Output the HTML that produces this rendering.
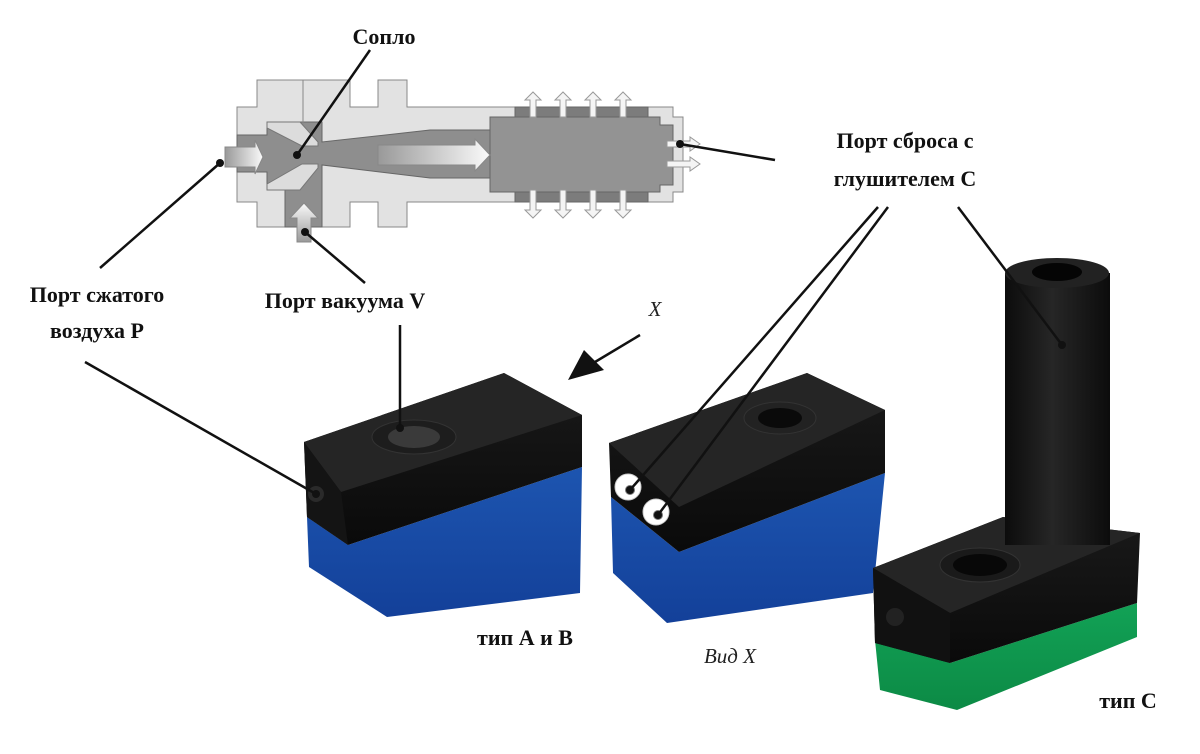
<!DOCTYPE html>
<html><head><meta charset="utf-8"><style>
html,body{margin:0;padding:0;background:#fff;width:1200px;height:754px;overflow:hidden}
svg{display:block}
.b{font-family:"Liberation Serif",serif;font-weight:bold;font-size:22px;fill:#111}
.i{font-family:"Liberation Serif",serif;font-style:italic;font-size:21px;fill:#222}
</style></head><body>
<svg width="1200" height="754" viewBox="0 0 1200 754" xmlns="http://www.w3.org/2000/svg">
<defs>
<linearGradient id="blk" x1="0" y1="0" x2="0" y2="1"><stop offset="0" stop-color="#1a1a1a"/><stop offset="1" stop-color="#0a0a0a"/></linearGradient>
<linearGradient id="blu" x1="0" y1="0" x2="0" y2="1"><stop offset="0" stop-color="#1d55b0"/><stop offset="1" stop-color="#134099"/></linearGradient>
<linearGradient id="grn" x1="0" y1="0" x2="0" y2="1"><stop offset="0" stop-color="#12a256"/><stop offset="1" stop-color="#0c8a45"/></linearGradient>
<linearGradient id="tube" x1="0" y1="0" x2="1" y2="0"><stop offset="0" stop-color="#0c0c0c"/><stop offset="0.45" stop-color="#262626"/><stop offset="1" stop-color="#0c0c0c"/></linearGradient>
<linearGradient id="arw" x1="0" y1="0" x2="1" y2="0"><stop offset="0" stop-color="#999"/><stop offset="1" stop-color="#fafafa"/></linearGradient>
<linearGradient id="arv" x1="0" y1="1" x2="0" y2="0"><stop offset="0" stop-color="#999"/><stop offset="1" stop-color="#fafafa"/></linearGradient>
</defs>
<!-- cross-section -->
<path d="M237,107 H257 V80 H350 V107 H378 V80 H407 V107 H673 V117 H683 V192 H673 V202 H407 V227 H378 V202 H350 V227 H257 V202 H237 Z" fill="#e2e2e2" stroke="#888" stroke-width="1"/>
<path d="M237,135 H267 V122 H322 V142 L430,130 H490 V178 H430 L322,165 V227 H285 V185 H267 V172 H237 Z" fill="#8e8e8e" stroke="#666"/>
<rect x="515" y="107" width="133" height="95" fill="#7c7c7c" stroke="#666"/>
<path d="M490,117 H660 V125 H673 V185 H660 V192 H490 Z" fill="#939393" stroke="#666"/>
<line x1="303" y1="80" x2="303" y2="135" stroke="#888"/>
<g fill="#dcdcdc" stroke="#777">
<polygon points="267,122 300,122 318,142 318,146 302,146 267,128"/>
<polygon points="267,190 300,190 318,168 318,164 302,164 267,184"/>
</g>
<polygon points="225,147 255,147 255,140 263,157 255,174 255,167 225,167" fill="url(#arw)" stroke="#888"/>
<polygon points="378,145 475,145 475,139 490,155 475,171 475,165 378,165" fill="url(#arw)" stroke="#888"/>
<polygon points="297,242 297,218 290,218 304,203 318,218 311,218 311,242" fill="url(#arv)" stroke="#888"/>
<g fill="#f4f4f4" stroke="#999">
<polygon points="530,117 530,100 525,100 533,92 541,100 536,100 536,117"/>
<polygon points="560,117 560,100 555,100 563,92 571,100 566,100 566,117"/>
<polygon points="590,117 590,100 585,100 593,92 601,100 596,100 596,117"/>
<polygon points="620,117 620,100 615,100 623,92 631,100 626,100 626,117"/>
<polygon points="530,190 530,210 525,210 533,218 541,210 536,210 536,190"/>
<polygon points="560,190 560,210 555,210 563,218 571,210 566,210 566,190"/>
<polygon points="590,190 590,210 585,210 593,218 601,210 596,210 596,190"/>
<polygon points="620,190 620,210 615,210 623,218 631,210 626,210 626,190"/>
<polygon points="667,141 690,141 690,137 700,144 690,151 690,147 667,147"/>
<polygon points="667,161 690,161 690,157 700,164 690,171 690,167 667,167"/>
</g>
<!-- block A/B -->
<polygon points="307,517 348,545 582,467 580,593 387,617 309,567" fill="url(#blu)"/>
<polygon points="304,442 504,373 582,415 582,467 348,545 307,517" fill="url(#blk)"/>
<polygon points="304,442 504,373 582,415 341,492" fill="#252525"/>
<polygon points="304,442 341,492 348,545 307,517" fill="#141414"/>
<ellipse cx="414" cy="437" rx="42" ry="17" fill="#1d1d1d" stroke="#333"/>
<ellipse cx="414" cy="437" rx="26" ry="11" fill="#3a3a3a"/>
<circle cx="316" cy="494" r="8" fill="#2a2a2a"/>
<!-- block view X -->
<polygon points="611,497 679,552 885,473 873,593 667,623 613,573" fill="url(#blu)"/>
<polygon points="609,443 807,373 885,410 885,473 679,552 611,497" fill="url(#blk)"/>
<polygon points="609,443 807,373 885,410 679,507" fill="#252525"/>
<ellipse cx="780" cy="418" rx="36" ry="16" fill="#222" stroke="#333"/>
<ellipse cx="780" cy="418" rx="22" ry="10" fill="#0a0a0a"/>
<circle cx="628" cy="487" r="13" fill="#fff" stroke="#ccc"/>
<circle cx="656" cy="512" r="13" fill="#fff" stroke="#ccc"/>
<circle cx="630" cy="490" r="5" fill="#777"/>
<circle cx="658" cy="515" r="5" fill="#777"/>
<!-- type C -->
<polygon points="875,640 950,663 1137,603 1137,637 957,710 880,690" fill="url(#grn)"/>
<polygon points="873,568 1003,517 1140,533 1137,603 950,663 875,643" fill="url(#blk)"/>
<polygon points="873,568 1003,517 1140,533 950,613" fill="#252525"/>
<polygon points="873,568 950,613 950,663 875,643" fill="#111"/>
<rect x="1005" y="273" width="105" height="272" fill="url(#tube)"/>
<ellipse cx="1057" cy="273" rx="52" ry="15" fill="#222"/>
<ellipse cx="1057" cy="272" rx="25" ry="9" fill="#050505"/>
<ellipse cx="980" cy="565" rx="40" ry="17" fill="#1a1a1a" stroke="#333"/>
<ellipse cx="980" cy="565" rx="27" ry="11" fill="#080808"/>
<circle cx="895" cy="617" r="9" fill="#222"/>
<!-- leader lines -->
<g stroke="#111" stroke-width="2.5" fill="none">
<line x1="370" y1="50" x2="297" y2="155"/>
<line x1="775" y1="160" x2="680" y2="144"/>
<line x1="878" y1="207" x2="630" y2="490"/>
<line x1="888" y1="207" x2="658" y2="515"/>
<line x1="958" y1="207" x2="1062" y2="345"/>
<line x1="220" y1="163" x2="100" y2="268"/>
<line x1="85" y1="362" x2="316" y2="494"/>
<line x1="365" y1="283" x2="305" y2="232"/>
<line x1="400" y1="325" x2="400" y2="428"/>
<line x1="640" y1="335" x2="595" y2="362"/>
</g>
<polygon points="568,380 584,350 604,370" fill="#111"/>
<g fill="#111"><circle cx="297" cy="155" r="4"/><circle cx="680" cy="144" r="4"/><circle cx="220" cy="163" r="4"/><circle cx="305" cy="232" r="4"/><circle cx="1062" cy="345" r="4"/><circle cx="400" cy="428" r="4"/><circle cx="316" cy="494" r="4"/><circle cx="630" cy="490" r="4"/><circle cx="658" cy="515" r="4"/></g>
<!-- labels -->
<text class="b" x="384" y="44" text-anchor="middle">Сопло</text>
<text class="b" x="905" y="148" text-anchor="middle">Порт сброса с</text>
<text class="b" x="905" y="186" text-anchor="middle">глушителем С</text>
<text class="b" x="97" y="302" text-anchor="middle">Порт сжатого</text>
<text class="b" x="97" y="338" text-anchor="middle">воздуха P</text>
<text class="b" x="345" y="308" text-anchor="middle">Порт вакуума V</text>
<text class="i" x="655" y="316" text-anchor="middle">X</text>
<text class="b" x="525" y="645" text-anchor="middle">тип А и В</text>
<text class="i" x="730" y="663" text-anchor="middle">Вид X</text>
<text class="b" x="1128" y="708" text-anchor="middle">тип С</text>
</svg>
</body></html>
